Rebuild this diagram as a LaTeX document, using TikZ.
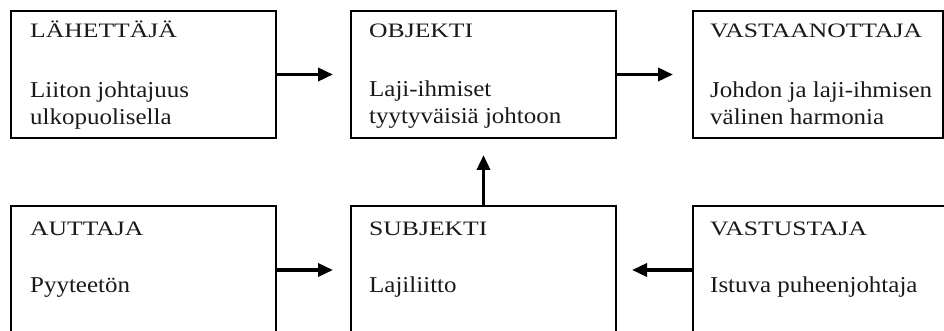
\documentclass[tikz,border=0pt]{standalone}
\usepackage{fontspec}
\setmainfont{Liberation Serif}
\newfontfamily\headfont[FakeStretch=1.25]{Liberation Serif}
\newfontfamily\bodyfont[FakeStretch=1.1]{Liberation Serif}
\usetikzlibrary{arrows.meta}
\begin{document}
\begin{tikzpicture}[x=1pt,y=-1pt,
  box/.style={draw=black, line width=2pt, rectangle, inner sep=0pt, anchor=north west},
  head/.style={anchor=base west, inner sep=0pt, font=\headfont\fontsize{20.5}{24}\selectfont, text=black!90},
  body/.style={anchor=base west, inner sep=0pt, align=left, font=\bodyfont\fontsize{22.7}{27}\selectfont, text=black!90},
  link/.style={line width=3.5pt, -{Triangle[length=15pt,width=13pt]}}]
\useasboundingbox (0,0) rectangle (944,331);
\clip (0,0) rectangle (944,331);

% upper row
\node[box, minimum width=265pt, minimum height=127pt] (send) at (10,10) {};
\node[box, minimum width=265pt, minimum height=127pt] (obj)  at (350,10) {};
\node[box, minimum width=250pt, minimum height=127pt] (recv) at (692,10) {};
% lower row (runs past the lower edge)
\node[box, minimum width=265pt, minimum height=128pt] (help) at (10,205) {};
\node[box, minimum width=265pt, minimum height=128pt] (subj) at (350,205) {};
\node[box, minimum width=254pt, minimum height=128pt] (opp)  at (692,205) {};

% labels (two-line texts sit on the baseline of their last line)
\node[head] (t1) at (30,38) {LÄHETTÄJÄ};
\node[body] (b1) at (30,125) {Liiton johtajuus\\ulkopuolisella};
\node[head] (t2) at (369,38) {OBJEKTI};
\node[body] (b2) at (369,124) {Laji-ihmiset\\tyytyväisiä johtoon};
\node[head] (t3) at (710,38) {VASTAANOTTAJA};
\node[body] (b3) at (710,125) {Johdon ja laji-ihmisen\\välinen harmonia};
\node[head] (t4) at (30,235) {AUTTAJA};
\node[body] (b4) at (30,292) {Pyyteetön};
\node[head] (t5) at (369,235) {SUBJEKTI};
\node[body] (b5) at (369,292) {Lajiliitto};
\node[head] (t6) at (710,235) {VASTUSTAJA};
\node[body] (b6) at (710,292) {Istuva puheenjohtaja};

% connectors
\draw[link, shorten >=17pt] (send.east) -- (obj.west);
\draw[link, shorten >=19pt] (obj.east) -- (recv.west);
\draw[link, shorten >=16pt] (subj.north) -- (obj.south);
\draw[link, shorten >=17pt] (help.east) -- (help.east -| subj.west);
\draw[link, shorten >=15pt] (opp.west) -- (opp.west -| subj.east);
\end{tikzpicture}
\end{document}
